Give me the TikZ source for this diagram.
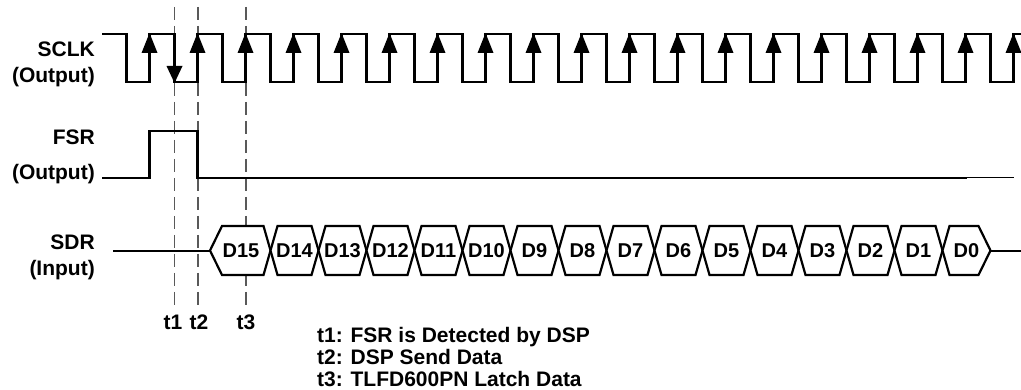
\documentclass[tikz,border=0pt]{standalone}
\usepackage{fontspec}
\setmainfont{Liberation Sans}
\begin{document}
\begin{tikzpicture}[x=1pt,y=-1pt,
  sig/.style={line width=2.2pt,black},
  guide/.style={line width=1.2pt,black!65,dash pattern=on 13pt off 6pt},
  lbl/.style={font=\fontsize{21}{24}\selectfont\bfseries,inner sep=0pt},
  cell/.style={sig,fill=white,line join=miter},
  dlbl/.style={font=\fontsize{20}{24}\selectfont\bfseries,inner sep=0pt}]
\useasboundingbox (0,0) rectangle (1021,390);
% guide lines
\coordinate (g1t) at (174.5,7); \coordinate (g1b) at (174.5,308);
\coordinate (g2t) at (198,7);   \coordinate (g2b) at (198,308);
\coordinate (g3t) at (246,7);   \coordinate (g3b) at (246,308);
\draw[guide] (g1t) -- (g1b);
\draw[guide] (g2t) -- (g2b);
\draw[guide] (g3t) -- (g3b);
% signal labels
\node[lbl,anchor=base east] (sclk) at (95,56.7) {SCLK};
\node[lbl,anchor=base east] (sclko) at (95,82.5) {(Output)};
\node[lbl,anchor=base east] (fsr) at (95,145) {FSR};
\node[lbl,anchor=base east] (fsro) at (95,180) {(Output)};
\node[lbl,anchor=base east] (sdr) at (95,250) {SDR};
\node[lbl,anchor=base east] (sdri) at (95,276) {(Input)};
% SCLK
\draw[sig] (102,34) -- (126.5,34) -- (126.5,82)
  \foreach \k in {0,...,17}{ -- ({149.5+48*\k},82) -- ({149.5+48*\k},34) -- ({174.5+48*\k},34) -- ({174.5+48*\k},82) }
  -- (1013.5,82) -- (1013.5,34) -- (1021,34);
\foreach \k in {0,...,18}{
  \fill ({149.5+48*\k},33) -- ({141.5+48*\k},53) -- ({157.5+48*\k},53) -- cycle;
}
\fill (174.5,83) -- (166.5,66) -- (182.5,66) -- cycle;
% FSR
\draw[sig] (102,178) -- (149.5,178) -- (149.5,131) -- (197.5,131) -- (197.5,178) -- (967,178);
\draw[line width=1pt] (967,178) -- (1014,178);
% SDR
\draw[sig] (113,251) -- (210,251);
\draw[sig] (990.5,251) -- (1021,251);
\draw[cell] (210,250.5) -- (222,226) -- (263.5,226) -- (270.5,250.5) -- (263.5,275) -- (222,275) -- cycle;
\node[dlbl] (d15) at (241,251) {D15};
\foreach \j in {1,...,14}{
  \pgfmathsetmacro{\a}{270.5+48*(\j-1)}
  \pgfmathsetmacro{\b}{270.5+48*\j}
  \draw[cell] (\a,250.5) -- ({\a+7},226) -- ({\b-7},226) -- (\b,250.5) -- ({\b-7},275) -- ({\a+7},275) -- cycle;
  \pgfmathtruncatemacro{\n}{15-\j}
  \node[dlbl] (d\n) at ({(\a+\b)/2},251) {D\n};
}
\draw[cell] (942.5,250.5) -- (949.5,226) -- (978.5,226) -- (990.5,250.5) -- (978.5,275) -- (949.5,275) -- cycle;
\node[dlbl] (d0) at (966.5,251) {D0};
% time labels
\node[lbl,anchor=base] (t1) at (173,330) {t1};
\node[lbl,anchor=base] (t2) at (199,330) {t2};
\node[lbl,anchor=base] (t3) at (246,330) {t3};
% legend
\node[lbl,anchor=base west] (n1) at (317,343) {t1: FSR is Detected by DSP};
\node[lbl,anchor=base west] (n2) at (317,364.5) {t2: DSP Send Data};
\node[lbl,anchor=base west] (n3) at (317,386) {t3: TLFD600PN Latch Data};
\end{tikzpicture}
\end{document}
